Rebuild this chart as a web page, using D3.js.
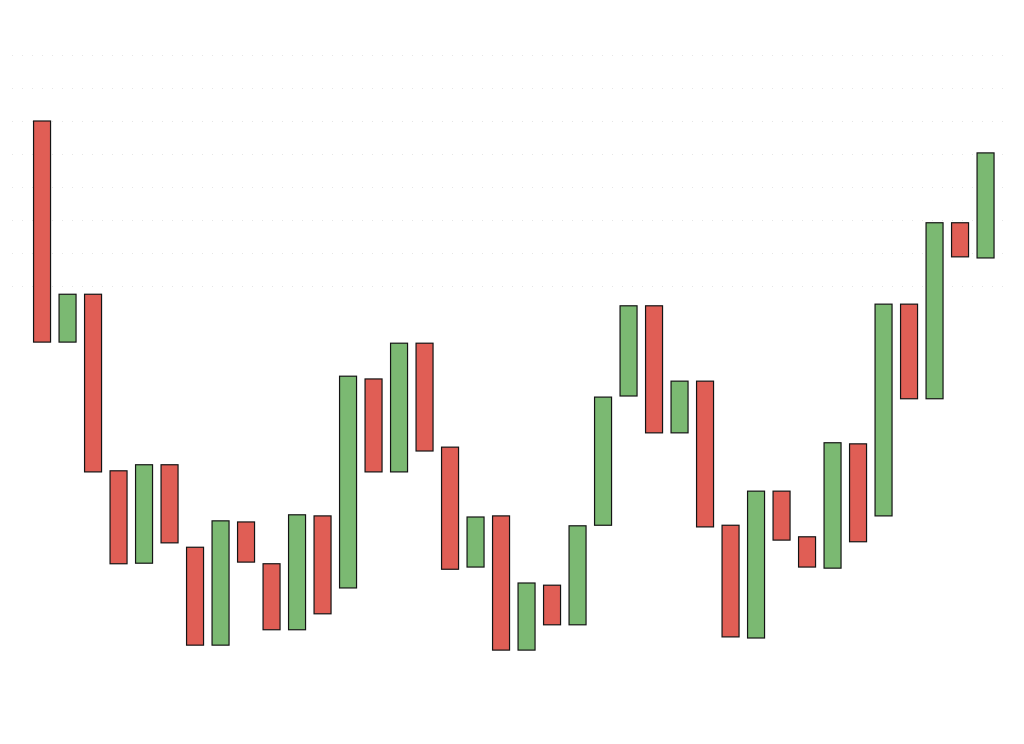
<!DOCTYPE html>
<html>
<head>
<meta charset="utf-8">
<script src="https://cdn.jsdelivr.net/npm/d3@7"></script>
<style>
  html, body { margin: 0; padding: 0; background: #ffffff; }
  svg { display: block; }
</style>
</head>
<body>
<svg id="chart" width="1024" height="744"></svg>
<script>
// Candle bodies: open / close values (no wicks)
const periods = d3.range(1, 39).map(d => "P" + d);
const opens  = [98.0, 57.8, 66.5, 34.4, 17.6, 35.5, 20.5, 2.7, 25.1, 17.5, 5.5, 26.2, 13.1, 51.1, 34.2, 57.6, 38.7, 16.9, 26.2, 1.8,
                13.6, 6.4, 24.5, 48.0, 64.4, 41.3, 50.7, 24.5, 4.0, 30.7, 22.4, 16.7, 39.3, 26.2, 64.7, 47.5, 79.5, 73.1];
const closes = [57.8, 66.5, 34.2, 17.5, 35.5, 21.3, 2.7, 25.3, 17.8, 5.5, 26.4, 8.4, 51.6, 34.2, 57.6, 38.0, 16.5, 26.0, 1.8, 14.0,
                6.4, 24.4, 47.8, 64.4, 41.3, 50.7, 24.2, 4.2, 30.7, 21.8, 16.9, 39.5, 21.5, 64.7, 47.5, 79.5, 73.3, 92.2];
const gridValues = [110, 104, 98, 92, 86, 80, 74, 68];

const svg = d3.select("#chart");

const x = d3.scaleBand()
  .domain(periods)
  .range([29.3, 998.3])
  .paddingInner(0.334)
  .paddingOuter(0.167);

const y = d3.scaleLinear()
  .domain([0, 110])
  .range([660, 55]);

// faint dotted background grid
svg.append("g")
  .selectAll("line")
  .data(gridValues)
  .join("line")
  .attr("x1", 12)
  .attr("x2", 1010)
  .attr("y1", d => y(d) + 0.5)
  .attr("y2", d => y(d) + 0.5)
  .attr("stroke", "#e6e6e6")
  .attr("stroke-width", 1)
  .attr("stroke-dasharray", "1,9");

const data = periods.map((p, i) => ({ p, open: opens[i], close: closes[i] }));

svg.append("g")
  .selectAll("rect")
  .data(data)
  .join("rect")
  .attr("x", d => x(d.p))
  .attr("width", x.bandwidth())
  .attr("y", d => y(Math.max(d.open, d.close)))
  .attr("height", d => Math.abs(y(d.open) - y(d.close)))
  .attr("fill", d => d.close >= d.open ? "#7bb972" : "#e05e55")
  .attr("stroke", "#141414")
  .attr("stroke-width", 1.2);
</script>
</body>
</html>
